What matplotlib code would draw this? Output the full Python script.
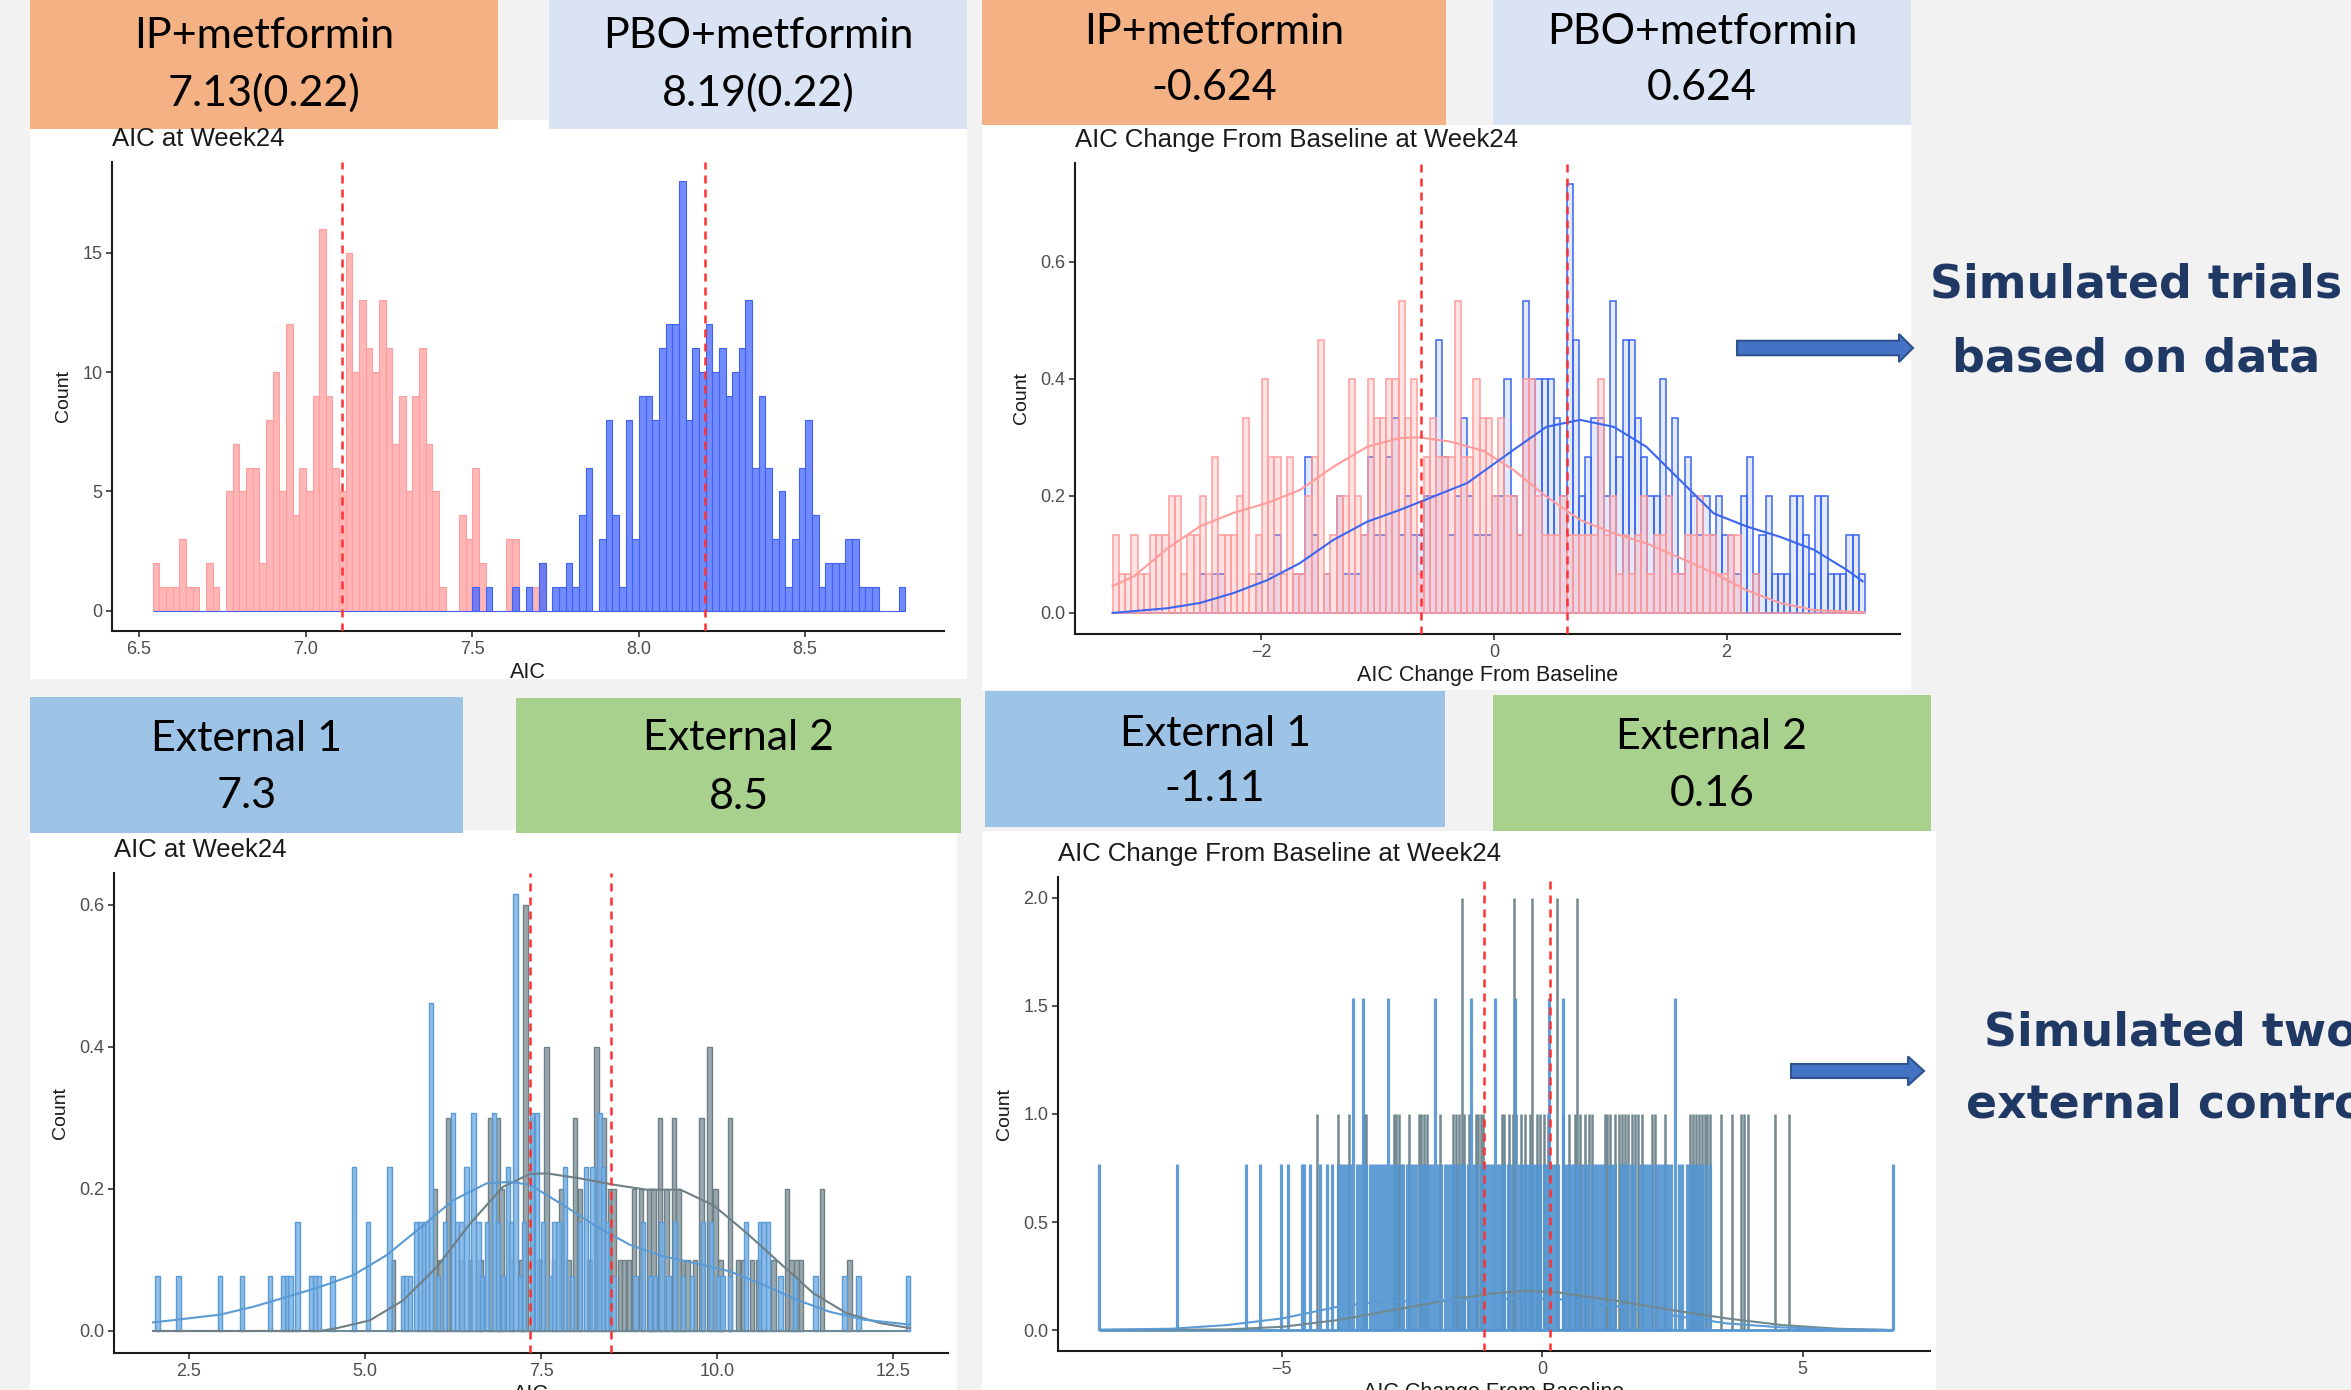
import numpy as np
import matplotlib
matplotlib.use("Agg")
import matplotlib.pyplot as plt
from matplotlib.patches import Rectangle, FancyArrow

plt.rcParams['font.family'] = ['Liberation Sans', 'DejaVu Sans']

W, H = 2351, 1390

# ---------------- top-left: AIC at Week24, counts in 0.02 bins from 6.541
aic_bin0, aic_bw = 6.541, 0.02
ip_aic_counts = [2, 1, 1, 1, 3, 1, 1, 0, 2, 1, 0, 5, 7, 5, 6, 6, 2, 8, 10, 5,
                 12, 4, 6, 5, 9, 16, 9, 6, 5, 15, 10, 13, 11, 10, 13, 11, 7, 9, 5, 9,
                 11, 7, 5, 1, 0, 0, 4, 3, 6, 2, 0, 0, 0, 3, 3, 0, 0, 1, 2, 0]
pbo_aic_first_bin = 48
pbo_aic_counts = [1, 0, 1, 0, 0, 0, 1, 0, 1, 0, 2, 0, 1, 1, 2, 1, 4, 6, 0, 3,
                  8, 4, 1, 8, 3, 9, 9, 8, 11, 12, 12, 18, 8, 11, 10, 12, 10, 11, 9, 10,
                  11, 13, 6, 9, 6, 3, 5, 1, 3, 6, 8, 4, 1, 2, 2, 2, 3, 3, 1, 1,
                  1, 0, 0, 0, 1]
aic_means = [7.11, 8.20]

# ---------------- top-right: change from baseline, density units of 1/15
cfb_bin0, cfb_bin1 = -3.279, 3.19
ip_cfb_units = [2, 1, 1, 2, 1, 1, 2, 2, 2, 3, 3, 1, 2, 2, 3, 1, 4, 2, 2, 2,
                3, 5, 1, 2, 6, 4, 4, 1, 4, 1, 1, 3, 4, 7, 1, 2, 3, 3, 6, 3,
                2, 6, 5, 5, 6, 6, 8, 5, 6, 1, 4, 5, 4, 4, 4, 8, 4, 4, 6, 5,
                5, 3, 5, 3, 3, 2, 6, 6, 3, 2, 2, 2, 3, 2, 2, 2, 2, 2, 6, 2,
                3, 1, 2, 1, 2, 3, 1, 2, 2, 3, 1, 1, 2, 2, 3, 2, 2, 1, 1, 2,
                2, 0, 0, 1, 0, 0, 0, 0, 0, 0, 0, 0, 0, 0, 0, 0, 0, 0, 0, 0, 0]
pbo_cfb_units = [0, 0, 0, 0, 0, 0, 0, 0, 0, 0, 0, 0, 0, 0, 1, 0, 1, 1, 0, 0,
                 0, 0, 0, 1, 0, 1, 2, 0, 0, 1, 1, 4, 2, 0, 1, 0, 3, 1, 1, 1,
                 2, 4, 2, 2, 4, 5, 2, 3, 2, 2, 3, 3, 7, 4, 2, 3, 5, 3, 2, 2,
                 2, 3, 3, 6, 3, 2, 8, 6, 6, 6, 6, 5, 3, 11, 7, 3, 4, 5, 5, 3,
                 8, 4, 7, 7, 5, 4, 3, 3, 6, 3, 5, 1, 4, 3, 2, 3, 2, 3, 2, 2,
                 1, 3, 4, 1, 2, 3, 1, 1, 1, 3, 3, 2, 1, 3, 3, 1, 1, 1, 2, 2, 1]
cfb_unit = 1 / 15
ip_cfb_kde_x = [-3.28, -3.10, -2.81, -2.53, -2.24, -1.95, -1.67, -1.38, -1.09, -0.81, -0.64, -0.38,
                -0.09, 0.17, 0.45, 0.74, 1.03, 1.31, 1.60, 1.89, 2.17, 2.46, 2.75, 3.19]
ip_cfb_kde_y = [0.046, 0.062, 0.110, 0.148, 0.171, 0.188, 0.210, 0.250, 0.284, 0.299, 0.300, 0.293,
                0.277, 0.244, 0.199, 0.159, 0.136, 0.119, 0.094, 0.068, 0.039, 0.017, 0.005, 0.001]
pbo_cfb_kde_x = [-3.28, -2.81, -2.53, -2.24, -1.95, -1.67, -1.38, -1.09, -0.81, -0.52, -0.23, 0.05,
                 0.17, 0.45, 0.74, 1.03, 1.31, 1.60, 1.89, 2.17, 2.46, 2.75, 3.03, 3.17]
pbo_cfb_kde_y = [0.0, 0.008, 0.017, 0.034, 0.056, 0.085, 0.125, 0.156, 0.176, 0.199, 0.222, 0.262,
                 0.279, 0.318, 0.330, 0.318, 0.284, 0.227, 0.170, 0.148, 0.130, 0.108, 0.074, 0.054]
cfb_means = [-0.624, 0.624]

# ---------------- bottom-left: external controls AIC (bin centre, count)
ext_aic_bw = 0.0625
ext1_aic_x = [2.05, 2.35, 2.94, 3.25, 3.65, 3.84, 3.89, 3.94, 4.04, 4.24, 4.29, 4.35, 4.54, 4.84,
              5.04, 5.35, 5.54, 5.58, 5.64, 5.73, 5.78, 5.84, 5.88, 5.94, 6.04, 6.14, 6.25, 6.31,
              6.37, 6.44, 6.54, 6.61, 6.66, 6.73, 6.83, 6.89, 6.96, 7.03, 7.08, 7.14, 7.20, 7.26,
              7.37, 7.44, 7.53, 7.64, 7.69, 7.75, 7.84, 7.94, 8.05, 8.14, 8.23, 8.33, 8.38, 8.44,
              8.53, 8.84, 8.95, 9.05, 9.12, 9.21, 9.31, 9.40, 9.52, 9.64, 9.80, 9.91, 10.02, 10.08,
              10.18, 10.41, 10.61, 10.66, 10.72, 10.90, 11.11, 11.40, 11.81, 12.01, 12.71]
ext1_aic_n = [1, 1, 1, 1, 1, 1, 1, 1, 2, 1, 1, 1, 1, 3,
              2, 3, 1, 1, 1, 2, 2, 2, 2, 6, 1, 2, 4, 2,
              2, 3, 4, 2, 1, 2, 4, 2, 1, 3, 2, 8, 1, 2,
              4, 4, 2, 1, 2, 2, 3, 1, 2, 3, 3, 4, 3, 2,
              1, 1, 2, 1, 1, 2, 1, 2, 1, 1, 2, 2, 1, 1,
              1, 2, 2, 2, 2, 1, 1, 1, 1, 1, 1]
ext2_aic_x = [5.40, 5.99, 6.07, 6.18, 6.38, 6.49, 6.64, 6.78, 6.89, 6.94, 7.09, 7.22, 7.28, 7.37,
              7.48, 7.58, 7.68, 7.79, 7.89, 7.98, 8.05, 8.19, 8.29, 8.39, 8.48, 8.53, 8.62, 8.68,
              8.75, 8.82, 8.92, 9.04, 9.10, 9.19, 9.28, 9.39, 9.45, 9.52, 9.58, 9.69, 9.78, 9.89,
              9.98, 10.05, 10.18, 10.30, 10.37, 10.50, 10.58, 10.80, 10.99, 11.06, 11.13, 11.19,
              11.49, 11.88]
ext2_aic_n = [1, 2, 1, 3, 1, 1, 1, 3, 3, 2, 1, 1, 6, 3,
              1, 4, 1, 2, 1, 3, 2, 1, 4, 3, 2, 2, 1, 1,
              1, 2, 2, 2, 2, 3, 2, 3, 2, 1, 1, 1, 3, 4,
              2, 1, 3, 1, 1, 1, 1, 1, 2, 1, 1, 1,
              2, 1]
ext1_aic_unit, ext2_aic_unit = 1 / 13, 1 / 10
ext1_aic_kde_x = [1.99, 2.94, 3.41, 3.89, 4.36, 4.84, 5.31, 5.78, 6.25, 6.73, 7.06, 7.34,
                  7.82, 8.29, 8.77, 9.24, 9.71, 10.18, 10.66, 11.13, 11.60, 12.08, 12.74]
ext1_aic_kde_y = [0.012, 0.023, 0.034, 0.048, 0.062, 0.079, 0.107, 0.145, 0.184, 0.208, 0.210, 0.206,
                  0.177, 0.147, 0.121, 0.105, 0.095, 0.084, 0.065, 0.044, 0.027, 0.016, 0.009]
ext2_aic_kde_x = [1.99, 4.36, 4.60, 5.07, 5.54, 6.02, 6.49, 6.96, 7.34, 7.58, 8.05, 8.53,
                  9.00, 9.48, 9.95, 10.42, 10.90, 11.37, 11.84, 12.32, 12.74]
ext2_aic_kde_y = [0.0, 0.0, 0.004, 0.015, 0.043, 0.090, 0.151, 0.203, 0.221, 0.222, 0.215, 0.206,
                  0.199, 0.199, 0.177, 0.138, 0.095, 0.053, 0.025, 0.011, 0.004]
ext_aic_means = [7.35, 8.50]

# ---------------- bottom-right: external controls change from baseline (position, count)
ext1_cfb_x = [-8.50, -7.01, -5.68, -5.41, -5.01, -4.88, -4.61, -4.56, -4.45, -4.26, -4.13, -4.03,
              -3.92, -3.86, -3.80, -3.74, -3.68, -3.62, -3.55, -3.50, -3.44, -3.38, -3.31, -3.25,
              -3.19, -3.13, -3.08, -3.02, -2.96, -2.90, -2.84, -2.78, -2.71, -2.66, -2.60, -2.54,
              -2.47, -2.41, -2.35, -2.29, -2.23, -2.17, -2.11, -2.05, -1.99, -1.93, -1.86, -1.80,
              -1.74, -1.68, -1.62, -1.56, -1.49, -1.43, -1.36, -1.30, -1.24, -1.18, -1.12, -1.06,
              -1.00, -0.95, -0.90, -0.84, -0.78, -0.72, -0.66, -0.60, -0.51, -0.45, -0.39, -0.33,
              -0.27, -0.21, -0.15, -0.09, -0.03, 0.03, 0.08, 0.13, 0.19, 0.25, 0.31, 0.40,
              0.46, 0.52, 0.58, 0.64, 0.70, 0.76, 0.82, 0.88, 0.95, 1.01, 1.07, 1.13,
              1.19, 1.28, 1.34, 1.40, 1.52, 1.58, 1.64, 1.70, 1.76, 1.88, 1.94, 2.00,
              2.06, 2.12, 2.18, 2.24, 2.30, 2.36, 2.42, 2.48, 2.56, 2.62, 2.69, 2.78,
              2.84, 2.90, 2.96, 3.02, 3.08, 3.15, 3.22, 6.74]
ext1_cfb_n = [1, 1, 1, 1, 1, 1, 1, 1, 1, 1, 1, 1,
              1, 1, 1, 1, 1, 2, 1, 1, 2, 1, 1, 1,
              1, 1, 1, 1, 2, 1, 1, 1, 1, 1, 1, 1,
              1, 1, 1, 1, 1, 1, 1, 2, 1, 1, 1, 1,
              1, 1, 1, 1, 1, 1, 2, 1, 1, 1, 1, 1,
              1, 1, 2, 1, 1, 1, 1, 1, 2, 1, 1, 1,
              1, 1, 1, 1, 1, 1, 1, 2, 1, 1, 1, 2,
              1, 1, 1, 1, 1, 1, 1, 1, 1, 1, 1, 1,
              1, 1, 1, 1, 1, 1, 1, 1, 1, 1, 1, 1,
              1, 1, 1, 1, 1, 1, 1, 1, 2, 1, 1, 1,
              1, 1, 1, 1, 1, 1, 1, 1]
ext2_cfb_x = [-4.31, -3.92, -3.71, -3.41, -3.37, -2.85, -2.80, -2.75, -2.55, -2.37, -2.32, -2.27,
              -2.21, -1.95, -1.70, -1.66, -1.60, -1.54, -1.49, -1.41, -1.27, -1.23, -1.17, -1.13,
              -0.77, -0.72, -0.64, -0.56, -0.53, -0.49, -0.40, -0.32, -0.24, -0.19, -0.10, -0.03,
              0.03, 0.11, 0.29, 0.40, 0.51, 0.64, 0.67, 0.72, 0.83, 0.90, 0.96, 1.20,
              1.25, 1.31, 1.41, 1.47, 1.54, 1.60, 1.65, 1.73, 1.79, 1.84, 1.92, 2.11,
              2.16, 2.37, 2.85, 2.90, 2.96, 3.01, 3.07, 3.12, 3.17, 3.22, 3.44, 3.65,
              3.81, 3.88, 3.95, 4.47, 4.74]
ext2_cfb_n = [1, 1, 1, 1, 1, 1, 1, 1, 1, 1, 1, 1,
              1, 1, 1, 1, 1, 2, 1, 1, 1, 1, 1, 1,
              1, 1, 1, 1, 2, 1, 1, 1, 1, 2, 1, 1,
              1, 1, 2, 1, 1, 1, 2, 1, 1, 1, 1, 1,
              1, 1, 1, 1, 1, 1, 1, 1, 1, 1, 1, 1,
              1, 1, 1, 1, 1, 1, 1, 1, 1, 1, 1, 1,
              1, 1, 1, 1, 1]
ext1_cfb_unit, ext2_cfb_unit = 1 / 1.3, 1.0
ext1_cfb_kde_x = [-8.50, -7.12, -6.05, -4.98, -3.92, -3.28, -2.32, -1.25, -0.19, 0.35, 1.41, 2.48,
                  3.54, 4.61, 5.68, 6.74]
ext1_cfb_kde_y = [0.002, 0.006, 0.023, 0.054, 0.108, 0.127, 0.136, 0.142, 0.147, 0.142, 0.111, 0.069,
                  0.031, 0.012, 0.003, 0.0]
ext2_cfb_kde_x = [-8.50, -6.05, -4.98, -3.92, -2.85, -1.79, -0.93, -0.29, 0.35, 1.41, 2.48, 3.54,
                  4.61, 5.68, 6.74]
ext2_cfb_kde_y = [0.0, 0.003, 0.015, 0.046, 0.093, 0.139, 0.170, 0.182, 0.173, 0.136, 0.093, 0.054,
                  0.023, 0.006, 0.0]
ext_cfb_means = [-1.11, 0.16]

# ---------------- header boxes
headers = [
    # x0, y0, x1, y1, colour, line1, line2, baselines
    (30, 0, 498, 129, '#F4B183', 'IP+metformin', '7.13(0.22)', 47.6, 105.7),
    (549, 0, 967, 129, '#DAE3F3', 'PBO+metformin', '8.19(0.22)', 47.6, 105.7),
    (982, 0, 1446, 125, '#F4B183', 'IP+metformin', '-0.624', 44, 100.5),
    (1493, 0, 1911, 125, '#DAE3F3', 'PBO+metformin', '0.624', 44, 100.5),
    (30, 697, 463, 833, '#9DC3E6', 'External 1', '7.3', 751, 808),
    (516, 698, 961, 833, '#A9D18E', 'External 2', '8.5', 750, 809),
    (985, 691, 1445, 827, '#9DC3E6', 'External 1', '-1.11', 746, 801),
    (1493, 695, 1931, 831, '#A9D18E', 'External 2', '0.16', 749, 806),
]
white_panels = [(30, 120, 967, 679), (982, 125, 1911, 690),
                (30, 830, 957, 1390), (982, 831, 1936, 1390)]

fig = plt.figure(figsize=(W / 100, H / 100), dpi=100, facecolor='#F2F2F2')

bg = fig.add_axes([0, 0, 1, 1], zorder=0)
bg.set_xlim(0, W)
bg.set_ylim(H, 0)
bg.axis('off')
for x0, y0, x1, y1 in white_panels:
    bg.add_patch(Rectangle((x0, y0), x1 - x0, y1 - y0, facecolor='white', edgecolor='none'))
for x0, y0, x1, y1, col, t1, t2, b1, b2 in headers:
    bg.add_patch(Rectangle((x0, y0), x1 - x0, y1 - y0, facecolor=col, edgecolor='none'))
    xc = (x0 + x1) / 2
    bg.text(xc, b1, t1, ha='center', va='baseline', fontsize=31, family='Lato', color='black')
    bg.text(xc, b2, t2, ha='center', va='baseline', fontsize=31, family='Lato', color='black')


def px_axes(x0, y0, x1, y1):
    return fig.add_axes([x0 / W, 1 - y1 / H, (x1 - x0) / W, (y1 - y0) / H], zorder=2)


def style(ax, title, xlabel):
    ax.set_facecolor('none')
    for s in ['top', 'right']:
        ax.spines[s].set_visible(False)
    for s in ['left', 'bottom']:
        ax.spines[s].set_linewidth(1.5)
        ax.spines[s].set_color('#1A1A1A')
    ax.tick_params(length=4, width=1.2, color='#333333', labelcolor='#4D4D4D',
                   labelsize=13, pad=3)
    ax.set_title(title, loc='left', fontsize=18.5, pad=11.5, color='#1A1A1A')
    ax.set_xlabel(xlabel, fontsize=15.5, labelpad=3, color='#1A1A1A')
    ax.set_ylabel('Count', fontsize=14, labelpad=7, color='#1A1A1A')


def vmeans(ax, xs):
    for m in xs:
        ax.axvline(m, color='#FF3030', lw=1.8, ls=(0, (3.2, 2.4)), zorder=5)


# ---- panel 1
ax1 = px_axes(112, 162, 944, 631)
nb = pbo_aic_first_bin + len(pbo_aic_counts)
ip_full = np.zeros(nb)
ip_full[:len(ip_aic_counts)] = ip_aic_counts
pbo_full = np.zeros(nb)
pbo_full[pbo_aic_first_bin:] = pbo_aic_counts
left = aic_bin0 + aic_bw * np.arange(nb)
ax1.bar(left, ip_full, width=aic_bw, align='edge', color='#FFB6B6', edgecolor='#FF9E9E', lw=0.8)
ax1.bar(left, pbo_full, width=aic_bw, align='edge', color=(0.29, 0.42, 1.0, 0.78),
        edgecolor='#3F62F2', lw=0.8)
vmeans(ax1, aic_means)
ax1.set_xlim(6.419, 8.917)
ax1.set_ylim(-0.85, 18.8)
ax1.set_xticks([6.5, 7.0, 7.5, 8.0, 8.5])
ax1.set_yticks([0, 5, 10, 15])
style(ax1, 'AIC at Week24', 'AIC')

# ---- panel 2
ax2 = px_axes(1075, 163, 1900, 634)
nb2 = len(ip_cfb_units)
bw2 = (cfb_bin1 - cfb_bin0) / nb2
left2 = cfb_bin0 + bw2 * np.arange(nb2)
ax2.bar(left2, np.array(pbo_cfb_units) * cfb_unit, width=bw2, align='edge',
        color=(0.25, 0.42, 0.95, 0.14), edgecolor='#3B66F0', lw=1.1)
ax2.bar(left2, np.array(ip_cfb_units) * cfb_unit, width=bw2, align='edge',
        color=(1.0, 0.6, 0.6, 0.28), edgecolor='#FF9C9C', lw=1.1)
ax2.plot(ip_cfb_kde_x, ip_cfb_kde_y, color='#FF9C9C', lw=1.5)
ax2.plot(pbo_cfb_kde_x, pbo_cfb_kde_y, color='#3B66F0', lw=1.5)
vmeans(ax2, cfb_means)
ax2.set_xlim(-3.603, 3.491)
ax2.set_ylim(-0.036, 0.769)
ax2.set_xticks([-2, 0, 2])
ax2.set_yticks([0.0, 0.2, 0.4, 0.6])
ax2.set_yticklabels(['0.0', '0.2', '0.4', '0.6'])
style(ax2, 'AIC Change From Baseline at Week24', 'AIC Change From Baseline')

# ---- panel 3
ax3 = px_axes(114, 873, 948, 1353)
ax3.bar(ext2_aic_x, np.array(ext2_aic_n) * ext2_aic_unit, width=ext_aic_bw,
        color='#9AA9AE', edgecolor='#6E8086', lw=1.0)
ax3.bar(ext1_aic_x, np.array(ext1_aic_n) * ext1_aic_unit, width=ext_aic_bw,
        color=(0.49, 0.70, 0.90, 0.85), edgecolor='#5B9BD5', lw=1.0)
ax3.hlines(0, min(ext1_aic_x), max(ext1_aic_x), color='#6E8A99', lw=1.5)
ax3.plot(ext2_aic_kde_x, ext2_aic_kde_y, color='#6E8086', lw=1.5)
ax3.plot(ext1_aic_kde_x, ext1_aic_kde_y, color='#5B9BD5', lw=1.5)
vmeans(ax3, ext_aic_means)
ax3.set_xlim(1.435, 13.28)
ax3.set_ylim(-0.031, 0.645)
ax3.set_xticks([2.5, 5.0, 7.5, 10.0, 12.5])
ax3.set_xticklabels(['2.5', '5.0', '7.5', '10.0', '12.5'])
ax3.set_yticks([0.0, 0.2, 0.4, 0.6])
ax3.set_yticklabels(['0.0', '0.2', '0.4', '0.6'])
style(ax3, 'AIC at Week24', 'AIC')

# ---- panel 4
ax4 = px_axes(1058, 877, 1930, 1351)
ax4.vlines(ext2_cfb_x, 0, np.array(ext2_cfb_n) * ext2_cfb_unit, color='#708890', lw=1.8)
ax4.vlines(ext1_cfb_x, 0, np.array(ext1_cfb_n) * ext1_cfb_unit, color='#5596D2', lw=2.3, alpha=0.92)
ax4.hlines(0, min(ext1_cfb_x), max(ext1_cfb_x), color='#5596D2', lw=2)
ax4.plot(ext2_cfb_kde_x, ext2_cfb_kde_y, color='#708890', lw=1.5)
ax4.plot(ext1_cfb_kde_x, ext1_cfb_kde_y, color='#5B9BD5', lw=1.5)
vmeans(ax4, ext_cfb_means)
ax4.set_xlim(-9.29, 7.447)
ax4.set_ylim(-0.097, 2.097)
ax4.set_xticks([-5, 0, 5])
ax4.set_yticks([0.0, 0.5, 1.0, 1.5, 2.0])
ax4.set_yticklabels(['0.0', '0.5', '1.0', '1.5', '2.0'])
style(ax4, 'AIC Change From Baseline at Week24', 'AIC Change From Baseline')

# ---- overlay: arrows and side notes
fg = fig.add_axes([0, 0, 1, 1], zorder=10)
fg.set_facecolor('none')
fg.set_xlim(0, W)
fg.set_ylim(H, 0)
fg.axis('off')
fg.add_patch(FancyArrow(1737, 348, 176, 0, width=14.5, head_width=28, head_length=14,
                        length_includes_head=True, facecolor='#4472C4', edgecolor='#2F528F', lw=1.5))
fg.add_patch(FancyArrow(1791, 1071, 133, 0, width=14, head_width=29, head_length=16,
                        length_includes_head=True, facecolor='#4472C4', edgecolor='#2F528F', lw=1.5))
navy = '#1F3864'
fg.text(2136, 297, 'Simulated trials', ha='center', va='baseline', fontsize=33,
        fontweight='bold', family='DejaVu Sans', color=navy)
fg.text(2136, 372, 'based on data', ha='center', va='baseline', fontsize=33,
        fontweight='bold', family='DejaVu Sans', color=navy)
fg.text(1984, 1045, 'Simulated two', ha='left', va='baseline', fontsize=33,
        fontweight='bold', family='DejaVu Sans', color=navy)
fg.text(1966, 1118, 'external controls', ha='left', va='baseline', fontsize=33,
        fontweight='bold', family='DejaVu Sans', color=navy)

fig.savefig('out.png', dpi=100, facecolor=fig.get_facecolor())
